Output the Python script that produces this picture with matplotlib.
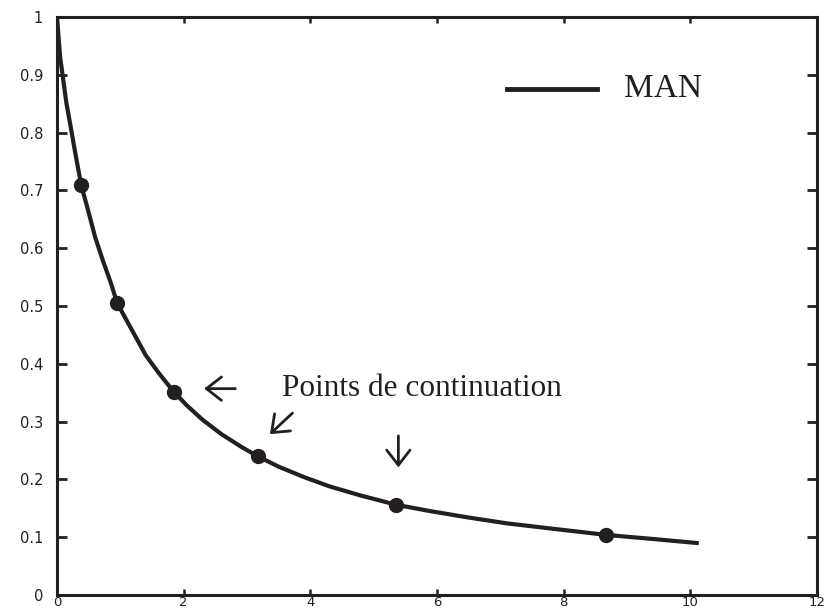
import matplotlib
matplotlib.use("Agg")
from matplotlib import pyplot as plt

# Curve
curve_x = [0, 0.05, 0.1, 0.15, 0.2, 0.28, 0.38, 0.48, 0.6, 0.72, 0.85, 0.95,
           1.1, 1.25, 1.4, 1.6, 1.84, 2.05, 2.3, 2.6, 2.9, 3.17, 3.5, 3.9,
           4.3, 4.8, 5.36, 5.9, 6.5, 7.1, 7.8, 8.67, 9.4, 10.1]
curve_y = [1.0, 0.93, 0.89, 0.85, 0.82, 0.77, 0.71, 0.67, 0.62, 0.58, 0.54, 0.505,
           0.475, 0.445, 0.415, 0.385, 0.352, 0.328, 0.303, 0.278, 0.257, 0.24, 0.222, 0.204,
           0.188, 0.172, 0.156, 0.145, 0.134, 0.124, 0.115, 0.104, 0.097, 0.09]

# Continuation points
pts_x = [0.38, 0.95, 1.84, 3.17, 5.36, 8.67]
pts_y = [0.71, 0.505, 0.352, 0.24, 0.156, 0.104]

x_ticks = [0, 2, 4, 6, 8, 10, 12]
y_ticks = [0, 0.1, 0.2, 0.3, 0.4, 0.5, 0.6, 0.7, 0.8, 0.9, 1]
y_labels = ["0", "0.1", "0.2", "0.3", "0.4", "0.5", "0.6", "0.7", "0.8", "0.9", "1"]
x_labels = ["0", "2", "4", "6", "8", "10", "12"]

INK = "#231f20"

fig = plt.figure(figsize=(8.34, 6.12), dpi=100)
# keep the x tick labels (and the "12" on the right) inside the canvas
ax = fig.add_axes([57 / 834, 17 / 612, 760 / 834, 578 / 612])

ax.plot(curve_x, curve_y, color=INK, lw=3, solid_joinstyle="round")
ax.plot(pts_x, pts_y, "o", color=INK, ms=10)

ax.set_xlim(0, 12)
ax.set_ylim(0, 1)
ax.set_xticks(x_ticks)
ax.set_xticklabels(x_labels)
ax.set_yticks(y_ticks)
ax.set_yticklabels(y_labels)
for s in ax.spines.values():
    s.set_linewidth(2.2)
    s.set_color(INK)
ax.tick_params(axis="y", direction="in", length=7, width=2, color=INK, pad=10,
               labelsize=10.5, labelcolor=INK, right=True)
ax.tick_params(axis="x", direction="in", length=4, width=1.8, color=INK, pad=0.5,
               labelsize=9.5, labelcolor=INK, top=True)
for lab in ax.get_xticklabels() + ax.get_yticklabels():
    lab.set_family("DejaVu Sans")

# legend drawn by hand
ax.plot([0.592, 0.711], [0.876, 0.876], color=INK, lw=3.5, transform=ax.transAxes,
        clip_on=False)
ax.text(0.746, 0.876, "MAN", transform=ax.transAxes, va="center", ha="left",
        fontsize=24, family="Liberation Serif", color=INK)

ax.text(3.56, 0.357, "Points de continuation", va="center", ha="left",
        fontsize=22.5, family="Liberation Serif", color=INK)

arrow = dict(arrowstyle="->,head_length=0.45,head_width=0.35", color=INK, lw=2,
             mutation_scale=24)
ax.annotate("", xy=(2.28, 0.357), xytext=(2.86, 0.357), arrowprops=arrow)
ax.annotate("", xy=(3.33, 0.275), xytext=(3.75, 0.318), arrowprops=arrow)
ax.annotate("", xy=(5.39, 0.216), xytext=(5.39, 0.28), arrowprops=arrow)

fig.savefig("out.png", dpi=100)
